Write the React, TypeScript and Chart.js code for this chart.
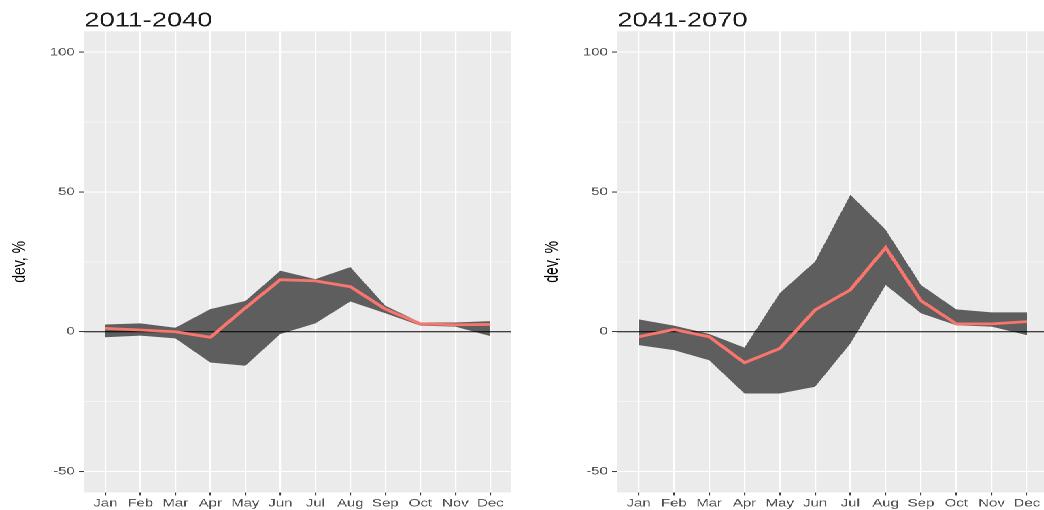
import { useEffect, useRef } from 'react';
import { Chart, registerables } from 'chart.js';

Chart.register(...registerables);

// picture is stretched sideways, so draw narrow and scale the whole thing in x
const S = 1.36;
const H = 510;
const FONT = '"Liberation Sans", Arial, Helvetica, sans-serif';

const months = ['Jan', 'Feb', 'Mar', 'Apr', 'May', 'Jun', 'Jul', 'Aug', 'Sep', 'Oct', 'Nov', 'Dec'];
const yMajor = [-50, 0, 50, 100];
const yMinor = [-25, 25, 75];

// 2011-2040
const lowerA = [-2.0, -1.4, -2.4, -11, -12.2, -0.8, 3, 10.8, 6.6, 2.2, 1.8, -1.6];
const upperA = [2.6, 3.0, 1.4, 8.1, 11, 21.8, 18.8, 23.1, 9.3, 3.3, 3.3, 3.8];
const meanA = [1.2, 0.6, 0, -2, 8.5, 18.6, 18.2, 16.1, 8.1, 2.8, 2.5, 2.6];

// 2041-2070
const lowerB = [-4.8, -6.6, -10.2, -22.1, -22.1, -19.7, -4.2, 16.7, 6.6, 2.3, 1.8, -1.2];
const upperB = [4.4, 2.2, -0.8, -5.7, 13.8, 25.1, 49, 36.5, 16.7, 8, 6.9, 6.9];
const meanB = [-1.8, 0.8, -1.8, -11.1, -6, 7.8, 15, 30.1, 11.1, 2.8, 2.8, 3.6];

const pts = (arr: number[]) => arr.map((y, i) => ({ x: i, y }));

type PanelProps = {
  title: string;
  lower: number[];
  upper: number[];
  mean: number[];
  left: number;
  width: number;
  axisW: number;
  padRight: number;
  titlePad: number;
};

const Panel = ({ title, lower, upper, mean, left, width, axisW, padRight, titlePad }: PanelProps) => {
  const ref = useRef<HTMLCanvasElement>(null);

  useEffect(() => {
    if (!ref.current) return;

    const panelBg = {
      id: 'panelBg',
      beforeDraw(chart: any) {
        const { ctx, chartArea: a } = chart;
        ctx.save();
        ctx.fillStyle = '#EBEBEB';
        ctx.fillRect(a.left, a.top, a.width, a.height);
        ctx.restore();
      },
    };

    const zeroLine = {
      id: 'zeroLine',
      afterDatasetDraw(chart: any, args: any) {
        if (args.index !== 1) return;
        const { ctx, chartArea: a } = chart;
        const y = chart.scales.y.getPixelForValue(0);
        ctx.save();
        ctx.strokeStyle = '#000';
        ctx.lineWidth = 1;
        ctx.beginPath();
        ctx.moveTo(a.left, y);
        ctx.lineTo(a.right, y);
        ctx.stroke();
        ctx.restore();
      },
    };

    const panelTitle = {
      id: 'panelTitle',
      afterDraw(chart: any) {
        const { ctx, chartArea: a } = chart;
        ctx.save();
        ctx.font = `20px ${FONT}`;
        ctx.fillStyle = '#1a1a1a';
        ctx.textBaseline = 'alphabetic';
        ctx.fillText(title, a.left, 26.5);
        ctx.restore();
      },
    };

    const isMajor = (v: number) => yMajor.includes(v);

    const chart = new Chart(ref.current, {
      type: 'line',
      data: {
        datasets: [
          {
            data: pts(mean),
            borderColor: '#F8766D',
            borderWidth: 2.8,
            pointRadius: 0,
            tension: 0,
            fill: false,
          },
          {
            data: pts(upper),
            borderColor: 'transparent',
            borderWidth: 0,
            backgroundColor: '#5e5e5e',
            pointRadius: 0,
            tension: 0,
            fill: '+1',
          },
          {
            data: pts(lower),
            borderColor: 'transparent',
            borderWidth: 0,
            pointRadius: 0,
            tension: 0,
            fill: false,
          },
        ],
      },
      options: {
        animation: false,
        responsive: false,
        devicePixelRatio: 2,
        layout: { padding: { top: 31.3, right: padRight, bottom: 0, left: 0 } },
        plugins: {
          legend: { display: false },
          tooltip: { enabled: false },
        },
        scales: {
          x: {
            type: 'linear',
            min: -0.6,
            max: 11.6,
            afterBuildTicks: (s: any) => {
              s.ticks = months.map((_, i) => ({ value: i }));
            },
            afterFit: (s: any) => {
              s.height = H - 492.4;
            },
            ticks: {
              autoSkip: false,
              maxRotation: 0,
              padding: 1.5,
              color: '#4D4D4D',
              font: { size: 11, family: FONT },
              callback: (_v: any, i: number) => months[i],
            },
            grid: {
              color: '#FFFFFF',
              lineWidth: 1.1,
              tickColor: '#333333',
              tickLength: 3,
              tickWidth: 1,
            },
            border: { display: false },
          },
          y: {
            type: 'linear',
            min: -57.5,
            max: 107.5,
            afterBuildTicks: (s: any) => {
              s.ticks = [...yMajor, ...yMinor].sort((a, b) => a - b).map((v) => ({ value: v }));
            },
            afterFit: (s: any) => {
              s.width = axisW;
            },
            ticks: {
              padding: 3,
              color: '#4D4D4D',
              font: { size: 11, family: FONT },
              callback: (v: any) => (isMajor(v) ? String(v) : ''),
            },
            grid: {
              color: '#FFFFFF',
              lineWidth: (c: any) => (isMajor(c.tick?.value) ? 1.1 : 0.55),
              tickColor: (c: any) => (isMajor(c.tick?.value) ? '#333333' : 'rgba(0,0,0,0)'),
              tickLength: 4,
              tickWidth: 1,
            },
            border: { display: false },
            title: {
              display: true,
              text: 'dev, %',
              color: '#000',
              font: { size: 14, family: FONT },
              padding: { top: titlePad, bottom: 0 },
            },
          },
        },
      },
      plugins: [panelBg, zeroLine, panelTitle],
    } as any);

    return () => chart.destroy();
  }, [title, lower, upper, mean, axisW, padRight, titlePad]);

  return (
    <canvas
      ref={ref}
      width={width}
      height={H}
      style={{ position: 'absolute', left, top: 0, width, height: H }}
    />
  );
};

export default function App() {
  return (
    <div
      style={{
        position: 'fixed',
        left: 0,
        top: 0,
        width: 1044,
        height: H,
        overflow: 'hidden',
        background: '#fff',
      }}
    >
      <div
        style={{
          position: 'absolute',
          left: 0,
          top: 0,
          width: 800,
          height: H,
          transform: `scaleX(${S})`,
          transformOrigin: '0 0',
        }}
      >
        <Panel title="2011-2040" lower={lowerA} upper={upperA} mean={meanA}
          left={0} width={390} axisW={62} padRight={14} titlePad={6.3} />
        <Panel title="2041-2070" lower={lowerB} upper={upperB} mean={meanB}
          left={390} width={400} axisW={64} padRight={19.4} titlePad={7.5} />
      </div>
    </div>
  );
}
